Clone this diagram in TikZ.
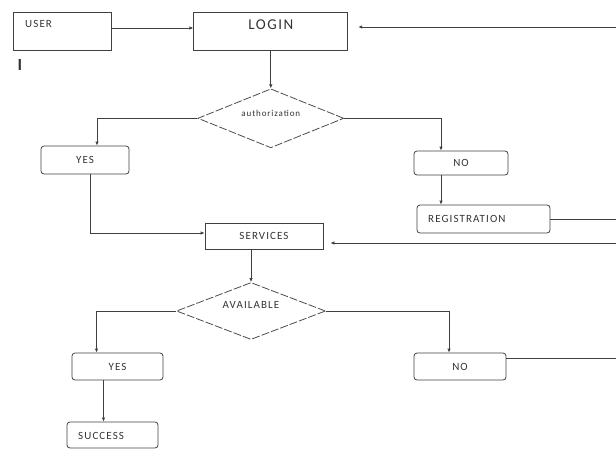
\documentclass[tikz,border=0pt]{standalone}
\usepackage{fontspec}
\setmainfont{Carlito}[LetterSpace=10]
\usepackage{tikz}
\usetikzlibrary{positioning,shapes.geometric,arrows.meta}
\tikzstyle{block} = [rectangle, draw=black!75, line width=0.8pt, inner sep=0pt, text=black!80]
\tikzstyle{rblock} = [block, rounded corners=3pt]
\tikzstyle{decision} = [diamond, draw=black!70, line width=0.8pt, dash pattern=on 8pt off 2pt, inner sep=0pt]
\tikzstyle{tag} = [inner sep=0pt, text=black!80]
\tikzstyle{connect} = [line width=0.8pt, draw=black!75, -{Latex[length=4pt,width=3.5pt]}]
\tikzstyle{connectline} = [line width=0.8pt, draw=black!75]

\begin{document}
\begin{tikzpicture}[x=1pt, y=-1pt, font=\fontsize{11}{13}\selectfont]
			\useasboundingbox (0,0) rectangle (616,450);
			\coordinate (edge) at (616,0);
			\coordinate (loginin) at (616,27);
			\coordinate (servicesin) at (616,243);
			
			\node (user) [block, minimum width=98pt, minimum height=38pt] at (62,31) {};
			\node (usertext) [tag, anchor=west] at (25,24) {USER};
			\node (cursor) [tag, font=\fontsize{17}{17}\selectfont\bfseries] at (20,65) {I};
			\node (login) [block, minimum width=154pt, minimum height=38pt, right=82pt of user] {};
			\node (logintext) [tag, font=\fontsize{15}{17}\selectfont] at ([yshift=6pt]login.center) {LOGIN};
			\node (auth) [decision, minimum width=146pt, minimum height=59pt, below=38pt of login] {};
			\node (authtext) [tag, font=\fontsize{9}{11}\selectfont] at ([yshift=5pt]auth.center) {authorization};
			\node (yes1) [rblock, minimum width=88pt, minimum height=28pt] at (85,160) {YES};
			\node (no1) [rblock, minimum width=94pt, minimum height=24pt] at (461,163) {NO};
			\node (reg) [rblock, minimum width=133pt, minimum height=28pt] at (483.5,219) {};
			\node (regtext) [tag, anchor=west] at (428,219) {REGISTRATION};
			\node (services) [block, minimum width=118pt, minimum height=26pt] at (264,236) {SERVICES};
			\node (avail) [decision, minimum width=149pt, minimum height=57pt] at (251,311) {};
			\node (availtext) [tag] at ([yshift=6pt]avail.center) {AVAILABLE};
			\node (yes2) [rblock, minimum width=91pt, minimum height=27pt] at (117.5,366.5) {YES};
			\node (no2) [rblock, minimum width=92pt, minimum height=27pt] at (460,366.5) {NO};
			\node (success) [rblock, minimum width=91pt, minimum height=26pt] at (112.5,435) {};
			\node (successtext) [tag, anchor=west] at (78,436) {SUCCESS};
			
			\draw [connect] ([yshift=3pt]user.east) -- ([yshift=3pt]login.west);
			\draw [connect, shorten >=10pt] (loginin) -- (loginin -| login.east);
			\draw [connect] (login) -- (auth);
			\draw [connect] (auth.west) -| ([xshift=12pt]yes1.north);
			\draw [connect] (auth.east) -| ([xshift=-20pt]no1.north);
			\draw [connect] ([xshift=-20pt]no1.south) -- ([xshift=-20pt]no1.south |- reg.north);
			\draw [connectline] (reg.east) -- (reg.east -| edge);
			\draw [connect] ([xshift=5pt]yes1.south) |- ([yshift=3pt]services.west);
			\draw [connect, shorten >=7pt] (servicesin) -- (servicesin -| services.east);
			\draw [connect] (services.south -| avail.north) -- (avail.north);
			\draw [connect] (avail.west) -| ([xshift=-21pt]yes2.north);
			\draw [connect] (avail.east) -| ([xshift=-11pt]no2.north);
			\draw [connect] ([xshift=-14pt]yes2.south) -- ([xshift=-14pt]yes2.south |- success.north);
			\draw [connectline] ([yshift=8pt]no2.east) -- ([yshift=8pt]no2.east -| edge);
\end{tikzpicture}
\end{document}
